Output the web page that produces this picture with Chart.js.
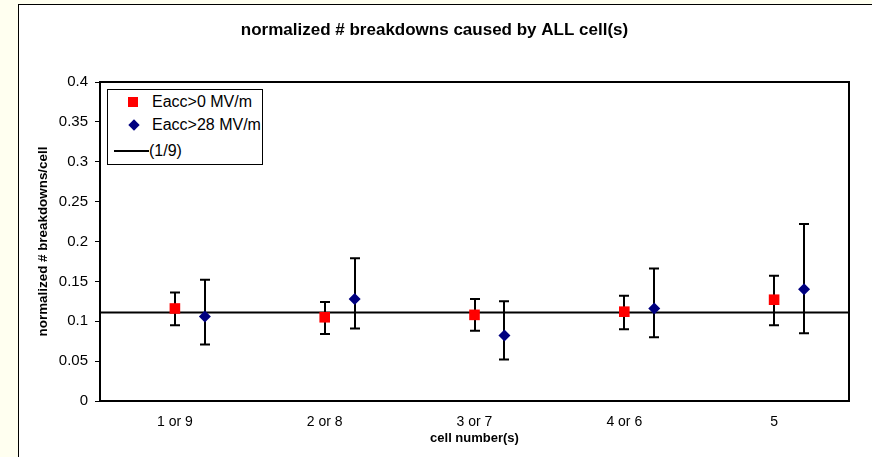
<!DOCTYPE html>
<html>
<head>
<meta charset="utf-8">
<script src="https://cdn.jsdelivr.net/npm/chart.js@4"></script>
<style>
  html, body { margin: 0; padding: 0; background: #fffff0; }
  #frame { position: absolute; left: 18px; top: 4px; width: 900px; height: 500px; background: #fff; border: 1px solid #000; }
  #wrap { position: absolute; left: 0; top: 0; width: 872px; height: 457px; }
  #legend { position: absolute; left: 107px; top: 89px; width: 154px; height: 74px; border: 1px solid #000; background: #fff;
            font-family: "Liberation Sans", Arial, sans-serif; font-size: 16px; color: #000; }
  .row { position: absolute; left: 0; height: 18px; line-height: 18px; white-space: nowrap; }
  .sq { position: absolute; width: 10px; height: 10px; background: #ff0000; }
  .dia { position: absolute; width: 8px; height: 8px; background: #000080; transform: rotate(45deg); }
  .ln { position: absolute; height: 2px; background: #000; }
</style>
</head>
<body>
<div id="frame"></div>
<div id="wrap"><canvas id="chart" width="872" height="457"></canvas></div>
<div id="legend">
  <div class="sq" style="left:20px; top:7px;"></div>
  <div class="row" style="left:44px; top:3px;">Eacc&gt;0 MV/m</div>
  <div class="dia" style="left:22px; top:31px;"></div>
  <div class="row" style="left:44px; top:26px;">Eacc&gt;28 MV/m</div>
  <div class="ln" style="left:6px; width:35px; top:60px;"></div>
  <div class="row" style="left:41px; top:52px;">(1/9)</div>
</div>
<script>
var categories = ['1 or 9', '2 or 8', '3 or 7', '4 or 6', '5'];

// Eacc>0 MV/m
var eacc0 = [0.116, 0.105, 0.108, 0.112, 0.127];
var eacc0Low = [0.095, 0.084, 0.088, 0.090, 0.095];
var eacc0High = [0.136, 0.124, 0.128, 0.132, 0.157];

// Eacc>28 MV/m
var eacc28 = [0.106, 0.128, 0.082, 0.116, 0.140];
var eacc28Low = [0.071, 0.091, 0.052, 0.080, 0.085];
var eacc28High = [0.152, 0.179, 0.125, 0.166, 0.222];

var expected = 1 / 9;
var yTicks = [0, 0.05, 0.1, 0.15, 0.2, 0.25, 0.3, 0.35, 0.4];

var blueShift = 0.2; // second series sits a bit right of the category

var font = "'Liberation Sans', Arial, sans-serif";

function points(vals, shift) {
    return vals.map(function (v, i) { return { x: i + 1 + shift, y: v }; });
}

// error bars, drawn under the markers
var errorBars = {
    id: 'errorBars',
    beforeDatasetsDraw: function (chart) {
        var ctx = chart.ctx;
        var xs = chart.scales.x, ys = chart.scales.y;
        var sets = [[eacc0Low, eacc0High, 0], [eacc28Low, eacc28High, blueShift]];
        ctx.save();
        ctx.strokeStyle = '#000';
        ctx.lineWidth = 2;
        sets.forEach(function (s) {
            s[0].forEach(function (lo, i) {
                var x = Math.round(xs.getPixelForValue(i + 1 + s[2]));
                var y1 = ys.getPixelForValue(lo);
                var y2 = ys.getPixelForValue(s[1][i]);
                ctx.beginPath();
                ctx.moveTo(x, y1); ctx.lineTo(x, y2);
                ctx.moveTo(x - 5, y1); ctx.lineTo(x + 5, y1);
                ctx.moveTo(x - 5, y2); ctx.lineTo(x + 5, y2);
                ctx.stroke();
            });
        });
        ctx.restore();
    },
    afterDraw: function (chart) {
        var a = chart.chartArea, ctx = chart.ctx;
        ctx.save();
        ctx.strokeStyle = '#000';
        ctx.lineWidth = 2;
        ctx.strokeRect(a.left, a.top, a.right - a.left, a.bottom - a.top);
        ctx.restore();
    }
};

var ctx = document.getElementById('chart').getContext('2d');
var chart = new Chart(ctx, {
    type: 'scatter',
    data: {
        datasets: [{
            label: 'Eacc>0 MV/m',
            data: points(eacc0, 0),
            pointStyle: 'rect',
            pointRadius: 7.5,
            backgroundColor: '#ff0000',
            borderColor: '#ff0000',
            borderWidth: 0
        }, {
            label: 'Eacc>28 MV/m',
            data: points(eacc28, blueShift),
            pointStyle: 'rectRot',
            pointRadius: 6,
            backgroundColor: '#000080',
            borderColor: '#000080',
            borderWidth: 0
        }, {
            label: '(1/9)',
            type: 'line',
            data: [{ x: 0.5, y: expected }, { x: 5.5, y: expected }],
            borderColor: '#000',
            borderWidth: 2,
            pointRadius: 0,
            fill: false
        }]
    },
    options: {
        responsive: false,
        animation: false,
        layout: { padding: { left: 20, top: 0, right: 23, bottom: 0 } },
        plugins: {
            legend: { display: false },
            tooltip: { enabled: false },
            title: {
                display: true,
                text: 'normalized # breakdowns caused by ALL cell(s)',
                color: '#000',
                font: { family: font, size: 17, weight: 'bold' },
                padding: { top: 19.8, bottom: 41.8 }
            }
        },
        scales: {
            x: {
                type: 'linear',
                min: 0.5,
                max: 5.5,
                afterBuildTicks: function (scale) {
                    scale.ticks = categories.map(function (c, i) { return { value: i + 1 }; });
                },
                afterFit: function (scale) { scale.height = 56; },
                grid: { display: false, drawTicks: false },
                border: { display: false },
                ticks: {
                    color: '#000',
                    padding: 13,
                    maxRotation: 0,
                    font: { family: font, size: 14 },
                    callback: function (v) { return categories[v - 1]; }
                },
                title: {
                    display: true,
                    text: 'cell number(s)',
                    color: '#000',
                    font: { family: font, size: 13, weight: 'bold' },
                    padding: { top: 0, bottom: 11 }
                }
            },
            y: {
                min: 0,
                max: 0.4,
                afterBuildTicks: function (scale) {
                    scale.ticks = yTicks.map(function (v) { return { value: v }; });
                },
                afterFit: function (scale) { scale.width = 80; },
                grid: { display: true, drawOnChartArea: false, drawTicks: true, tickLength: 5, color: '#000', lineWidth: 1 },
                border: { display: false },
                ticks: {
                    color: '#000',
                    padding: 7,
                    font: { family: font, size: 15 },
                    callback: function (v) { return String(+v.toFixed(2)); }
                },
                title: {
                    display: true,
                    text: 'normalized # breakdowns/cell',
                    color: '#000',
                    font: { family: font, size: 13.4, weight: 'bold' },
                    padding: { top: 15, bottom: 0 }
                }
            }
        }
    },
    plugins: [errorBars]
});
</script>
</body>
</html>
